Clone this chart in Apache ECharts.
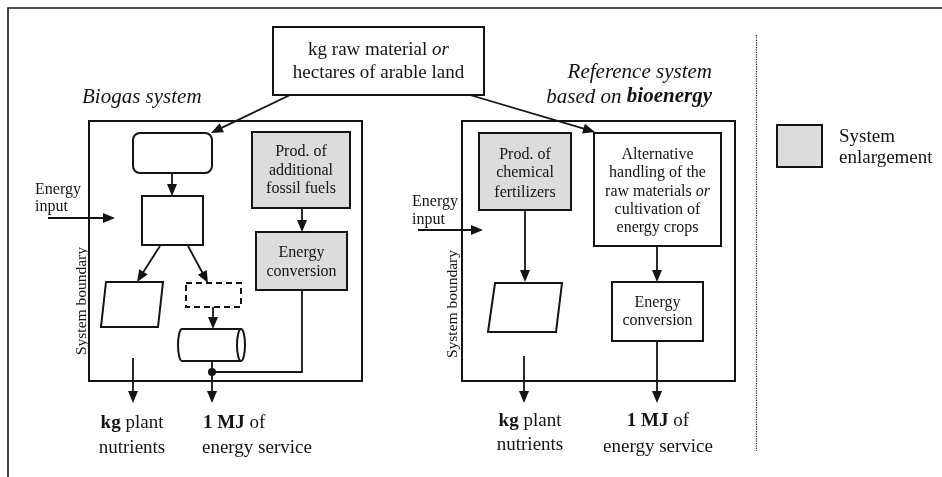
<!DOCTYPE html>
<html>
<head>
<meta charset="utf-8">
<script src="https://cdn.jsdelivr.net/npm/echarts@6/dist/echarts.min.js"></script>
<style>html,body{margin:0;padding:0;background:#fff}#c{width:942px;height:477px}</style>
</head>
<body>
<div id="c"></div>
<script>
// Diagram units = page pixels (x to the right, y downwards)
const X_MAX = 942, Y_MAX = 477;

// box corners [x1, y1, x2, y2]
const plainBoxes = [[273,27,484,95],[142,196,203,245],[594,133,721,246],[612,282,703,341]];
const boundaryBoxes = [[89,121,362,381],[462,121,735,381]];
const grayBoxes = [[252,132,350,208],[256,232,347,290],[479,133,571,210],[777,125,822,167]];
const roundBoxes = [[133,133,212,173]];
const dashedBoxes = [[186,283,241,307]];
const cylinders = [[178,329,245,361]];
// parallelogram corners: top-left, top-right, bottom-right, bottom-left
const parallelograms = [[106,282,163,282,158,327,101,327],[495,283,562,283,556,332,488,332]];
// arrows [xFrom, yFrom, xTo, yTo]
const arrows = [
  [290,95,211,133],[172,173,172,196],[48,218,115,218],[302,208,302,232],
  [160,246,137,282],[188,246,208,283],[213,307,213,329],[212,361,212,403],[133,358,133,403],
  [470,95,595,132],[418,230,483,230],[525,210,525,282],[657,246,657,282],[657,341,657,403],[524,356,524,403]
];
// plain connector polylines
const connectors = [[212,372,302,372,302,290]];
const frameLine = [[8,477,8,8,942,8]];
const dottedDivider = [[756.5,35,756.5,451]];
const junctionDots = [[212,372]];
// text labels [x, y, text, style, align]
const texts = [
  [378.5,50,'kg raw material {i|or}','big','center'],
  [378.5,73,'hectares of arable land','big','center'],
  [82,97,'Biogas system','title','left'],
  [301,152,'Prod. of','box','center'],[301,171,'additional','box','center'],[301,189,'fossil fuels','box','center'],
  [301.5,253,'Energy','box','center'],[301.5,272,'conversion','box','center'],
  [35,190,'Energy','side','left'],[35,207,'input','side','left'],
  [132,423,'{b|kg} plant','big','center'],[132,448,'nutrients','big','center'],
  [203,423,'{b|1 MJ} of','big','left'],[202,448,'energy service','big','left'],
  [712,72,'Reference system','title','right'],
  [712,97,'based on {bi|bioenergy}','title','right'],
  [525,155,'Prod. of','box','center'],[525,173,'chemical','box','center'],[525,193,'fertilizers','box','center'],
  [657.5,155,'Alternative','box','center'],[657.5,173,'handling of the','box','center'],
  [657.5,192,'raw materials {i|or}','box','center'],[657.5,210,'cultivation of','box','center'],
  [657.5,228,'energy crops','box','center'],
  [412,202,'Energy','side','left'],[412,220,'input','side','left'],
  [657.5,303,'Energy','box','center'],[657.5,321,'conversion','box','center'],
  [530,421,'{b|kg} plant','big','center'],[530,445,'nutrients','big','center'],
  [658,421,'{b|1 MJ} of','big','center'],[658,447,'energy service','big','center'],
  [839,137,'System','legend','left'],[839,158,'enlargement','legend','left']
];
const rotatedTexts = [[82,301,'System boundary'],[453,304,'System boundary']];

const FONT = "'Liberation Serif','DejaVu Serif',serif";
const INK = '#141414';
const GRAY = '#dcdcdc';
const textStyles = {
  big:   {fontSize: 19, fontStyle: 'normal'},
  box:   {fontSize: 16, fontStyle: 'normal'},
  side:  {fontSize: 16, fontStyle: 'normal'},
  title: {fontSize: 21, fontStyle: 'italic'},
  legend:{fontSize: 19, fontStyle: 'normal'}
};

function richFor(fs, fst) {
  const base = {fontFamily: FONT, fontSize: fs, fill: INK};
  return {
    b:  Object.assign({}, base, {fontWeight: 'bold', fontStyle: fst}),
    i:  Object.assign({}, base, {fontStyle: 'italic', fontWeight: 'normal'}),
    bi: Object.assign({}, base, {fontStyle: 'italic', fontWeight: 'bold'})
  };
}

function pts(api, arr) {
  const out = [];
  for (let k = 0; k < arr.length; k += 2) out.push(api.coord([arr[k], arr[k+1]]));
  return out;
}

function rectSeries(list, style, extra) {
  return {
    type: 'custom', coordinateSystem: 'cartesian2d', silent: true, clip: false,
    data: list.map(d => [d[0], d[1], d[2], d[3]]),
    renderItem: function (params, api) {
      const d = list[params.dataIndex];
      const p1 = api.coord([d[0], d[1]]), p2 = api.coord([d[2], d[3]]);
      return {
        type: 'rect',
        shape: Object.assign({x: p1[0], y: p1[1], width: p2[0]-p1[0], height: p2[1]-p1[1]}, extra || {}),
        style: style
      };
    }
  };
}

function polySeries(list, closed, style) {
  return {
    type: 'custom', coordinateSystem: 'cartesian2d', silent: true, clip: false,
    data: list.map(d => [d[0], d[1]]),
    renderItem: function (params, api) {
      const d = list[params.dataIndex];
      return {type: closed ? 'polygon' : 'polyline', shape: {points: pts(api, d)}, style: style};
    }
  };
}

const series = [
  polySeries(frameLine, false, {stroke: INK, lineWidth: 1.6, fill: null}),
  polySeries(dottedDivider, false, {stroke: '#222', lineWidth: 1.2, lineDash: [1.2, 1.2], fill: null}),
  rectSeries(boundaryBoxes, {fill: 'none', stroke: INK, lineWidth: 2}),
  rectSeries(plainBoxes, {fill: '#fff', stroke: INK, lineWidth: 2}),
  rectSeries(grayBoxes, {fill: GRAY, stroke: INK, lineWidth: 2}),
  rectSeries(roundBoxes, {fill: '#fff', stroke: INK, lineWidth: 2}, {r: 7}),
  rectSeries(dashedBoxes, {fill: '#fff', stroke: INK, lineWidth: 2, lineDash: [6, 4]}),
  polySeries(parallelograms, true, {fill: '#fff', stroke: INK, lineWidth: 2}),
  polySeries(connectors, false, {stroke: INK, lineWidth: 1.8, fill: null}),
  {
    type: 'custom', coordinateSystem: 'cartesian2d', silent: true, clip: false,
    data: cylinders.map(d => [d[0], d[1]]),
    renderItem: function (params, api) {
      const d = cylinders[params.dataIndex];
      const a = api.coord([d[0], d[1]]), b = api.coord([d[2], d[3]]);
      const rx = 4, ry = (b[1]-a[1]) / 2;
      const path = 'M' + (a[0]+rx) + ' ' + a[1] + ' L' + (b[0]-rx) + ' ' + a[1] +
        ' A' + rx + ' ' + ry + ' 0 0 1 ' + (b[0]-rx) + ' ' + b[1] +
        ' L' + (a[0]+rx) + ' ' + b[1] +
        ' A' + rx + ' ' + ry + ' 0 0 1 ' + (a[0]+rx) + ' ' + a[1] + ' Z' +
        ' M' + (b[0]-rx) + ' ' + a[1] + ' A' + rx + ' ' + ry + ' 0 0 0 ' + (b[0]-rx) + ' ' + b[1];
      return {type: 'path', shape: {pathData: path}, style: {fill: '#fff', stroke: INK, lineWidth: 2}};
    }
  },
  {
    type: 'custom', coordinateSystem: 'cartesian2d', silent: true, clip: false,
    data: arrows.map(d => [d[0], d[1]]),
    renderItem: function (params, api) {
      const d = arrows[params.dataIndex];
      const p = api.coord([d[0], d[1]]), q = api.coord([d[2], d[3]]);
      const dx = q[0]-p[0], dy = q[1]-p[1], L = Math.sqrt(dx*dx+dy*dy);
      const ux = dx/L, uy = dy/L, hl = 12, hw = 5;
      const bx = q[0]-ux*hl, by = q[1]-uy*hl;
      return {
        type: 'group',
        children: [
          {type: 'line', shape: {x1: p[0], y1: p[1], x2: bx+ux*2, y2: by+uy*2}, style: {stroke: INK, lineWidth: 1.8}},
          {type: 'polygon', shape: {points: [q, [bx - uy*hw, by + ux*hw], [bx + uy*hw, by - ux*hw]]}, style: {fill: INK}}
        ]
      };
    }
  },
  {
    type: 'custom', coordinateSystem: 'cartesian2d', silent: true, clip: false,
    data: junctionDots.map(d => [d[0], d[1]]),
    renderItem: function (params, api) {
      const c = api.coord(junctionDots[params.dataIndex]);
      return {type: 'circle', shape: {cx: c[0], cy: c[1], r: 4}, style: {fill: INK}};
    }
  },
  {
    type: 'custom', coordinateSystem: 'cartesian2d', silent: true, clip: false,
    data: texts.map(d => [d[0], d[1]]),
    renderItem: function (params, api) {
      const d = texts[params.dataIndex];
      const c = api.coord([d[0], d[1]]);
      const st = textStyles[d[3]];
      return {
        type: 'text', x: c[0], y: c[1],
        style: {
          text: d[2], fontFamily: FONT, fontSize: st.fontSize, fontStyle: st.fontStyle,
          fontWeight: 'normal', fill: INK, align: d[4], verticalAlign: 'middle',
          rich: richFor(st.fontSize, st.fontStyle)
        }
      };
    }
  },
  {
    type: 'custom', coordinateSystem: 'cartesian2d', silent: true, clip: false,
    data: rotatedTexts.map(d => [d[0], d[1]]),
    renderItem: function (params, api) {
      const d = rotatedTexts[params.dataIndex];
      const c = api.coord([d[0], d[1]]);
      return {
        type: 'text', x: c[0], y: c[1], rotation: Math.PI / 2,
        style: {text: d[2], fontFamily: FONT, fontSize: 15.5, fill: INK, align: 'center', verticalAlign: 'middle'}
      };
    }
  }
];

const chart = echarts.init(document.getElementById('c'), null, {renderer: 'canvas'});
chart.setOption({
  animation: false,
  backgroundColor: '#fff',
  grid: {left: 0, right: 0, top: 0, bottom: 0},
  xAxis: {type: 'value', min: 0, max: X_MAX, show: false},
  yAxis: {type: 'value', min: 0, max: Y_MAX, inverse: true, show: false},
  series: series
});
</script>
</body>
</html>
